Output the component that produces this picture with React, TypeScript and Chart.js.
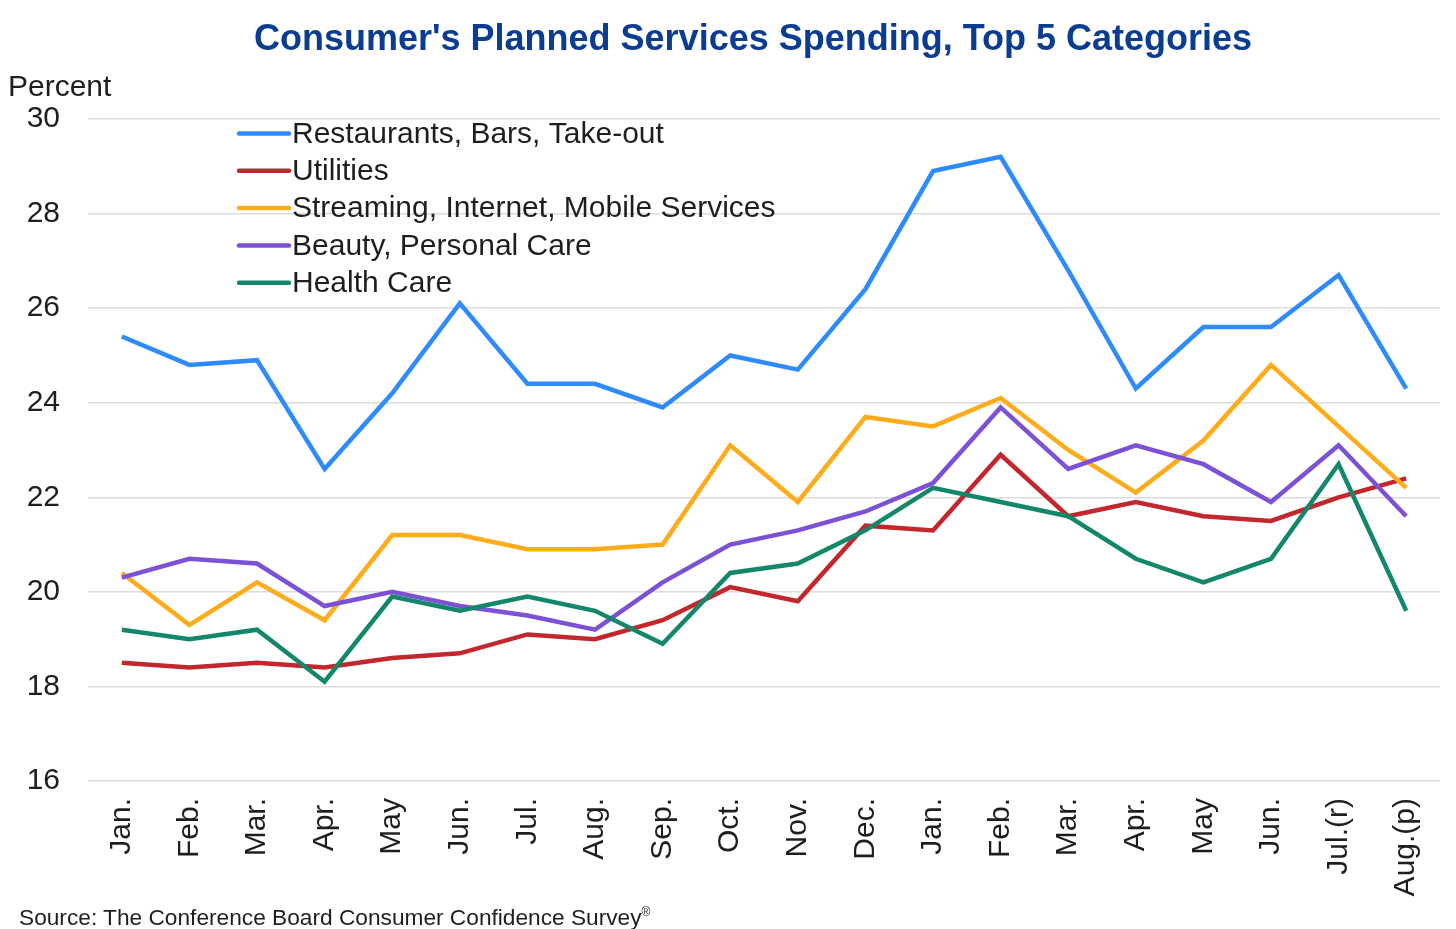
import React, { useEffect, useRef } from "react";
import { Chart, registerables } from "chart.js";

Chart.register(...registerables);

const categories = [
  "Jan.", "Feb.", "Mar.", "Apr.", "May", "Jun.", "Jul.", "Aug.", "Sep.", "Oct.",
  "Nov.", "Dec.", "Jan.", "Feb.", "Mar.", "Apr.", "May", "Jun.", "Jul.(r)", "Aug.(p)",
];

const restaurants = [25.4, 24.8, 24.9, 22.6, 24.2, 26.1, 24.4, 24.4, 23.9, 25.0, 24.7, 26.4, 28.9, 29.2, 26.8, 24.3, 25.6, 25.6, 26.7, 24.3];
const utilities = [18.5, 18.4, 18.5, 18.4, 18.6, 18.7, 19.1, 19.0, 19.4, 20.1, 19.8, 21.4, 21.3, 22.9, 21.6, 21.9, 21.6, 21.5, 22.0, 22.4];
const streaming = [20.4, 19.3, 20.2, 19.4, 21.2, 21.2, 20.9, 20.9, 21.0, 23.1, 21.9, 23.7, 23.5, 24.1, 23.0, 22.1, 23.2, 24.8, 23.5, 22.2];
const beauty = [20.3, 20.7, 20.6, 19.7, 20.0, 19.7, 19.5, 19.2, 20.2, 21.0, 21.3, 21.7, 22.3, 23.9, 22.6, 23.1, 22.7, 21.9, 23.1, 21.6];
const healthCare = [19.2, 19.0, 19.2, 18.1, 19.9, 19.6, 19.9, 19.6, 18.9, 20.4, 20.6, 21.3, 22.2, 21.9, 21.6, 20.7, 20.2, 20.7, 22.7, 19.6];

const seriesNames = [
  "Restaurants, Bars, Take-out",
  "Utilities",
  "Streaming, Internet, Mobile Services",
  "Beauty, Personal Care",
  "Health Care",
];
const seriesColors = ["#2e8bff", "#c1272d", "#ffab1a", "#7b52d6", "#12876a"];

const yMin = 16;
const yMax = 30;
const yStep = 2;

const FONT = "'Liberation Sans', Arial, sans-serif";
const TEXT = "#1e1e1e";

const legendPlugin = {
  id: "insideLegend",
  afterDraw(chart: any) {
    const ctx = chart.ctx;
    ctx.save();
    ctx.font = `30px ${FONT}`;
    ctx.textBaseline = "middle";
    ctx.textAlign = "left";
    chart.data.datasets.forEach((ds: any, i: number) => {
      const y = 133.5 + i * 37.3;
      ctx.strokeStyle = ds.borderColor;
      ctx.lineWidth = 4.5;
      ctx.lineCap = "round";
      ctx.beginPath();
      ctx.moveTo(239, y);
      ctx.lineTo(289, y);
      ctx.stroke();
      ctx.fillStyle = TEXT;
      ctx.fillText(ds.label, 292, y + 1);
    });
    ctx.restore();
  },
};

export default function App() {
  const ref = useRef<HTMLCanvasElement | null>(null);

  useEffect(() => {
    if (!ref.current) return;
    const seriesData = [restaurants, utilities, streaming, beauty, healthCare];
    const chart = new Chart(ref.current, {
      type: "line",
      data: {
        labels: categories,
        datasets: seriesData.map((d, i) => ({
          label: seriesNames[i],
          data: d,
          borderColor: seriesColors[i],
          backgroundColor: seriesColors[i],
          borderWidth: 4.5,
          pointRadius: 0,
          tension: 0,
          fill: false,
          order: 4 - i,
        })),
      },
      options: {
        animation: false,
        responsive: false,
        devicePixelRatio: 1,
        layout: { padding: { top: 119, right: 16, left: 0, bottom: 0 } },
        plugins: {
          legend: { display: false },
          title: { display: false },
          tooltip: { enabled: false },
        },
        scales: {
          x: {
            type: "category",
            offset: true,
            grid: { display: false, drawTicks: false },
            border: { display: false },
            ticks: {
              autoSkip: false,
              maxRotation: 90,
              minRotation: 90,
              padding: 17,
              color: TEXT,
              font: { family: FONT, size: 30 },
            },
            afterFit: (s: any) => {
              s.height = 929 - 781;
              s.paddingRight = 0;
              s.paddingLeft = 0;
            },
          },
          y: {
            min: yMin,
            max: yMax,
            ticks: {
              stepSize: yStep,
              padding: 28,
              color: TEXT,
              font: { family: FONT, size: 30 },
            },
            grid: { color: "#dcdcdc", lineWidth: 1.5, drawTicks: false },
            border: { display: false },
            afterFit: (s: any) => {
              s.width = 88;
            },
          },
        },
      },
      plugins: [legendPlugin],
    });
    return () => chart.destroy();
  }, []);

  return (
    <div style={{ position: "absolute", left: 0, top: 0, width: 1456, height: 929, background: "#fff", overflow: "hidden", fontFamily: FONT }}>
      <canvas ref={ref} width={1456} height={929} style={{ position: "absolute", left: 0, top: 0, width: 1456, height: 929 }} />
      <div style={{ position: "absolute", left: 25, top: 18, width: 1456, textAlign: "center", fontWeight: "bold", fontSize: 36, color: "#0a3d91", lineHeight: "40px", whiteSpace: "nowrap" }}>
        Consumer's Planned Services Spending, Top 5 Categories
      </div>
      <div style={{ position: "absolute", left: 8, top: 68, fontSize: 30, color: TEXT, lineHeight: "36px" }}>Percent</div>
      <div style={{ position: "absolute", left: 19, top: 898, fontSize: 22.7, color: TEXT, lineHeight: "28px", whiteSpace: "nowrap" }}>
        Source: The Conference Board Consumer Confidence Survey<sup style={{ fontSize: 12 }}>®</sup>
      </div>
    </div>
  );
}
